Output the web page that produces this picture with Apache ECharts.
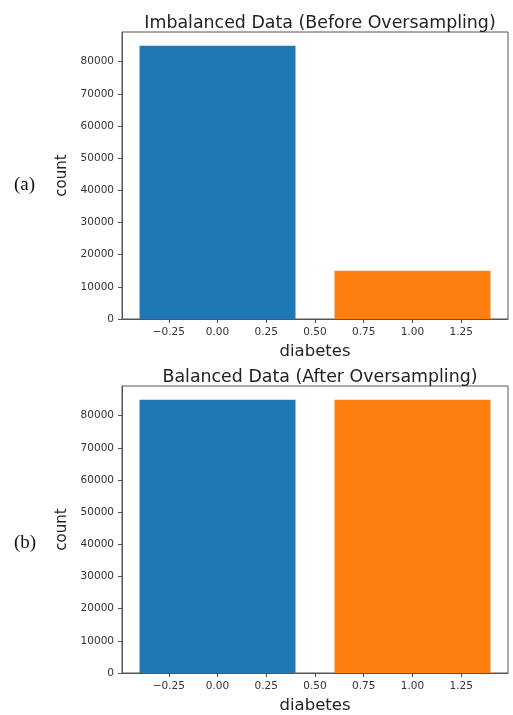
<!DOCTYPE html>
<html>
<head>
<meta charset="utf-8">
<script src="https://cdn.jsdelivr.net/npm/echarts@6/dist/echarts.min.js"></script>
<style>
  html, body { margin: 0; padding: 0; background: #fff; }
  #chart { width: 513px; height: 715px; }
</style>
</head>
<body>
<div id="chart"></div>
<script>
// Class counts of the "diabetes" target before and after oversampling
const categories = [0, 1];
const beforeCounts = [85000, 15000];
const afterCounts = [85000, 85000];
const barColors = ['#1f77b4', '#ff7f0e'];

const xTicks = [-0.25, 0, 0.25, 0.5, 0.75, 1, 1.25];
const yTicks = [0, 10000, 20000, 30000, 40000, 50000, 60000, 70000, 80000];

const titles = ['Imbalanced Data (Before Oversampling)', 'Balanced Data (After Oversampling)'];
const panelTags = ['(a)', '(b)'];

const BAR_WIDTH = 0.8;
const X_MIN = -0.49, X_MAX = 1.49;
const FONT = '"DejaVu Sans", sans-serif';
const INK = '#333';
const FRAME = '#555';

function fmtX(v) {
  const s = Math.abs(v).toFixed(2);
  return v < 0 ? '\u2212' + s : s;
}

function renderBar(params, api) {
  const x = api.value(0), y = api.value(1);
  const p0 = api.coord([x - BAR_WIDTH / 2, y]);
  const p1 = api.coord([x + BAR_WIDTH / 2, 0]);
  return {
    type: 'rect',
    shape: { x: p0[0], y: p0[1], width: p1[0] - p0[0], height: p1[1] - p0[1] },
    style: { fill: barColors[params.dataIndex % barColors.length] }
  };
}

const grids = [
  { left: 122, top: 32, width: 386, height: 287 },
  { left: 122, top: 386, width: 386, height: 288 }
];

function xAxis(gridIndex) {
  return {
    type: 'value', gridIndex, min: X_MIN, max: X_MAX,
    name: 'diabetes', nameLocation: 'middle', nameGap: 24,
    nameTextStyle: { fontFamily: FONT, fontSize: 16.5, color: '#222' },
    axisLine: { show: true, onZero: false, lineStyle: { color: FRAME, width: 1 } },
    axisTick: { show: true, length: 4, customValues: xTicks, lineStyle: { color: FRAME } },
    axisLabel: { customValues: xTicks, formatter: fmtX, fontFamily: FONT, fontSize: 10.5, color: INK, margin: 8 },
    splitLine: { show: false }
  };
}

function yAxis(gridIndex, counts) {
  return {
    type: 'value', gridIndex, min: 0, max: Math.max(...counts) * 1.05,
    name: 'count', nameLocation: 'middle', nameGap: 45, nameRotate: 90,
    nameTextStyle: { fontFamily: FONT, fontSize: 15, color: '#222' },
    axisLine: { show: true, onZero: false, lineStyle: { color: FRAME, width: 1 } },
    axisTick: { show: true, length: 4, customValues: yTicks, lineStyle: { color: FRAME } },
    axisLabel: { customValues: yTicks, formatter: v => String(v), fontFamily: FONT, fontSize: 10.5, color: INK, margin: 8 },
    splitLine: { show: false }
  };
}

const chart = echarts.init(document.getElementById('chart'), null, { renderer: 'canvas' });

chart.setOption({
  animation: false,
  backgroundColor: '#fff',
  title: [
    { text: titles[0], left: 315, top: 10, textAlign: 'center',
      textStyle: { fontFamily: FONT, fontSize: 17.4, fontWeight: 'normal', color: '#222' } },
    { text: titles[1], left: 315, top: 364, textAlign: 'center',
      textStyle: { fontFamily: FONT, fontSize: 17.4, fontWeight: 'normal', color: '#222' } }
  ],
  grid: grids.map(g => Object.assign({ show: true, borderColor: FRAME, borderWidth: 1, backgroundColor: '#fff' }, g)),
  xAxis: [xAxis(0), xAxis(1)],
  yAxis: [yAxis(0, beforeCounts), yAxis(1, afterCounts)],
  series: [
    { type: 'custom', xAxisIndex: 0, yAxisIndex: 0, renderItem: renderBar,
      encode: { x: 0, y: 1 }, data: categories.map((c, i) => [c, beforeCounts[i]]) },
    { type: 'custom', xAxisIndex: 1, yAxisIndex: 1, renderItem: renderBar,
      encode: { x: 0, y: 1 }, data: categories.map((c, i) => [c, afterCounts[i]]) }
  ],
  graphic: [
    { type: 'text', left: 14, top: 176,
      style: { text: panelTags[0], fontFamily: '"Liberation Serif", serif', fontSize: 19, fill: '#111' } },
    { type: 'text', left: 14, top: 534,
      style: { text: panelTags[1], fontFamily: '"Liberation Serif", serif', fontSize: 19, fill: '#111' } }
  ]
});
</script>
</body>
</html>
